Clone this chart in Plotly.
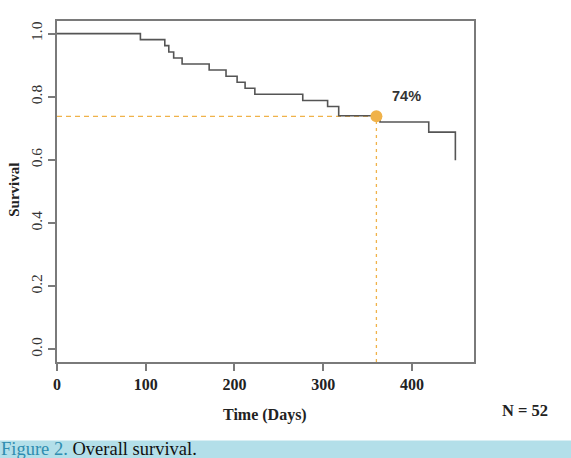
import plotly.graph_objects as go

# ---- data ----
time_days = [0, 94, 121.5, 126, 131.5, 141, 171.5, 190.5, 203, 212, 223, 277, 305, 317.5, 364, 419, 449]
survival = [1.0, 0.981, 0.962, 0.942, 0.923, 0.904, 0.885, 0.865, 0.846, 0.827, 0.808, 0.788, 0.769, 0.740, 0.720, 0.688, 0.599]
landmark_day = 360
landmark_surv = 0.738
landmark_label = "74%"
x_ticks = [0, 100, 200, 300, 400]
y_ticks = [0.0, 0.2, 0.4, 0.6, 0.8, 1.0]
y_tick_text = ["0.0", "0.2", "0.4", "0.6", "0.8", "1.0"]
x_range = [0, 470]
y_range = [-0.04, 1.04]

W, H = 571, 458
L, R, T, B = 57, 474, 21, 362.5
plot_w, plot_h = R - L, B - T

def px(p):
    return (p - L) / plot_w

def py(p):
    return (B - p) / plot_h

SERIF = "Liberation Serif"
ORANGE = "#f0b24a"
AXIS_GRAY = "#7a7a7a"

fig = go.Figure()

# dashed landmark lines
fig.add_trace(go.Scatter(x=[x_range[0], landmark_day], y=[landmark_surv, landmark_surv],
                         mode="lines", line=dict(color=ORANGE, width=1.3, dash="5px,4px"),
                         hoverinfo="skip", showlegend=False))
fig.add_trace(go.Scatter(x=[landmark_day, landmark_day], y=[y_range[0], landmark_surv],
                         mode="lines", line=dict(color=ORANGE, width=1.3, dash="3px,4px"),
                         hoverinfo="skip", showlegend=False))

# KM curve
fig.add_trace(go.Scatter(x=time_days, y=survival, mode="lines", line_shape="hv",
                         line=dict(color="#555555", width=1.6), showlegend=False))

# landmark dot
fig.add_trace(go.Scatter(x=[landmark_day], y=[landmark_surv], mode="markers",
                         marker=dict(color=ORANGE, size=12), showlegend=False))

fig.add_annotation(x=394, y=0.804, text="<b>" + landmark_label + "</b>", showarrow=False,
                   font=dict(family="Arial", size=14.5, color="#333333"),
                   xanchor="center", yanchor="middle")

# axis titles and N
fig.add_annotation(x=px(265), y=py(416), xref="paper", yref="paper", text="<b>Time (Days)</b>",
                   showarrow=False, font=dict(family=SERIF, size=16, color="#222222"),
                   xanchor="center", yanchor="middle")
fig.add_annotation(x=px(14), y=py(190), xref="paper", yref="paper", text="<b>Survival</b>",
                   showarrow=False, textangle=-90, font=dict(family=SERIF, size=15, color="#222222"),
                   xanchor="center", yanchor="middle")
fig.add_annotation(x=px(525), y=py(411), xref="paper", yref="paper", text="<b>N = 52</b>",
                   showarrow=False, font=dict(family=SERIF, size=16.5, color="#222222"),
                   xanchor="center", yanchor="middle")

# caption bar
fig.add_shape(type="rect", xref="paper", yref="paper", x0=px(0), x1=px(W), y0=py(441), y1=py(H + 2),
              fillcolor="#b3dfe9", line=dict(width=0), layer="below")
fig.add_annotation(x=px(-1), y=py(449.5), xref="paper", yref="paper",
                   text="<span style='color:#2f8db0'>Figure 2.</span> Overall survival.",
                   showarrow=False, font=dict(family=SERIF, size=18.5, color="#111111"),
                   xanchor="left", yanchor="middle")

fig.update_xaxes(range=x_range, tickvals=x_ticks, ticktext=["<b>%d</b>" % v for v in x_ticks],
                 showgrid=False, zeroline=False, showline=True, mirror=True,
                 linecolor=AXIS_GRAY, linewidth=1.6, ticks="outside", ticklen=7,
                 tickcolor=AXIS_GRAY, tickwidth=1.5,
                 tickfont=dict(family=SERIF, size=16, color="#222222"))
fig.update_yaxes(range=y_range, tickvals=y_ticks, ticktext=y_tick_text, tickangle=-90,
                 showgrid=False, zeroline=False, showline=True, mirror=True,
                 linecolor=AXIS_GRAY, linewidth=1.6, ticks="outside", ticklen=7,
                 tickcolor=AXIS_GRAY, tickwidth=1.5,
                 tickfont=dict(family=SERIF, size=15.5, color="#333333"))

fig.update_layout(width=W, height=H, margin=dict(l=L, r=W - R, t=T, b=H - B, pad=0),
                  paper_bgcolor="white", plot_bgcolor="white")

fig.write_html("out.html")
